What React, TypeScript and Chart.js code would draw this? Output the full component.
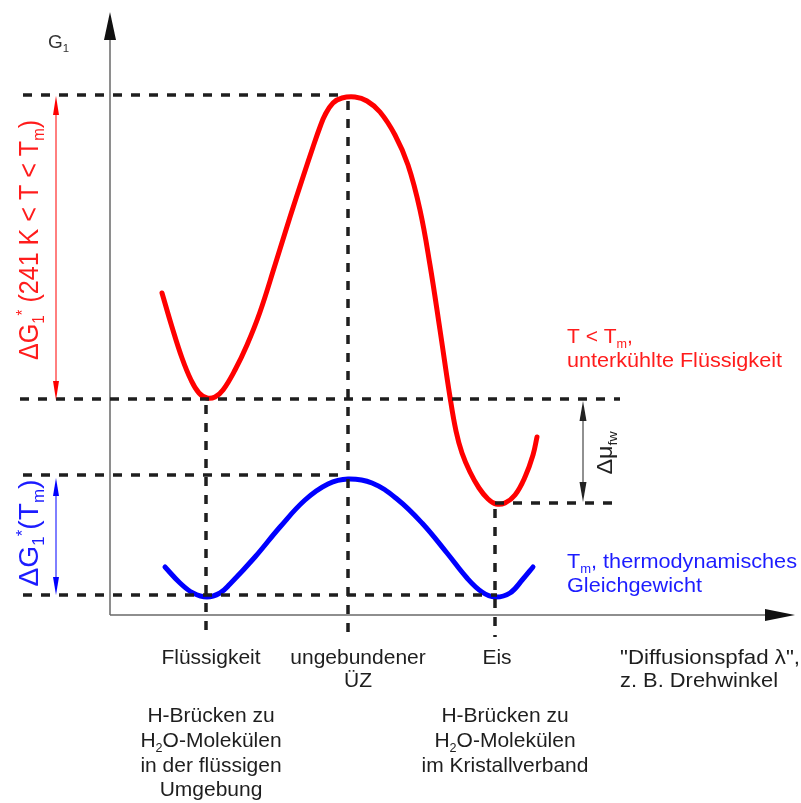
import React, { useEffect, useRef } from "react";
import { Chart, registerables } from "chart.js";

Chart.register(...registerables);

// Diffusion path coordinate λ (x) and free energy G1 (y), arbitrary units, origin at the axis crossing
const redX = [52, 62, 72, 81, 89, 97, 105, 113, 125, 137, 150, 165, 180, 193, 203, 210, 215, 223, 232, 245, 257, 270, 285, 298, 310, 320, 330, 340, 346, 352, 360, 369, 378, 386, 395, 405, 415, 423, 427];
const redY = [322, 288, 257, 235, 222, 217, 218, 225, 245, 270, 303, 350, 398, 438, 468, 488, 500, 512, 517, 518, 514, 503, 480, 450, 405, 350, 285, 218, 184, 162, 143, 127, 116, 111, 112, 120, 138, 160, 178];
const blueX = [55, 70, 83, 97, 110, 120, 145, 170, 195, 218, 238, 262, 287, 312, 337, 357, 372, 385, 400, 413, 423];
const blueY = [48, 32, 22, 18, 22, 31, 58, 88, 115, 131, 136, 132, 116, 92, 62, 37, 23, 18, 22, 36, 48];

// characteristic states on the path: Flüssigkeit, ungebundener ÜZ, Eis
const stateX = [96, 238, 385];
const stateLevel = [216, 520, 112];
const stateLabels = [["Flüssigkeit"], ["ungebundener", "ÜZ"], ["Eis"]];
const stateLabelX = [101, 248, 387];

// reference energy levels (dashed horizontals)
const levelY = [520, 216, 140, 20, 112];
const levelFrom = [-87, -90, -87, -87, 385];
const levelTo = [228, 510, 230, 387, 505];

const descLeft = ["H-Brücken zu", "H₂O-Molekülen", "in der flüssigen", "Umgebung"];
const descRight = ["H-Brücken zu", "H₂O-Molekülen", "im Kristallverband"];
const descX = [101, 395];

const X_MAX = 685;
const Y_MAX = 603;
const BELOW_AXIS = -22;

const FONT = '"Liberation Sans", Arial, sans-serif';
const RED = "#ff0000";
const BLUE = "#0000ff";
const RED_TXT = "#ff1c1c";
const BLUE_TXT = "#1c1cff";
const DARK = "#1e1e1e";

type Seg = { t: string; k?: "sub" | "sup" };

function segFont(size: number, k?: string) {
  return `${k ? size * 0.6 : size}px ${FONT}`;
}

function richWidth(ctx: CanvasRenderingContext2D, segs: Seg[], size: number) {
  let w = 0;
  for (const s of segs) {
    ctx.font = segFont(size, s.k);
    w += ctx.measureText(s.t).width;
  }
  return w;
}

function drawRich(
  ctx: CanvasRenderingContext2D,
  segs: Seg[],
  x: number,
  y: number,
  size: number,
  color: string,
  align: "left" | "center",
  targetW?: number,
  rotate?: boolean
) {
  ctx.save();
  ctx.translate(x, y);
  if (rotate) ctx.rotate(-Math.PI / 2);
  const w = richWidth(ctx, segs, size);
  const sx = targetW ? targetW / w : 1;
  ctx.scale(sx, 1);
  let cx = align === "center" ? -w / 2 : 0;
  ctx.fillStyle = color;
  ctx.textBaseline = "alphabetic";
  ctx.textAlign = "left";
  for (const s of segs) {
    ctx.font = segFont(size, s.k);
    const dy = s.k === "sub" ? size * 0.22 : s.k === "sup" ? -size * 0.36 : 0;
    ctx.fillText(s.t, cx, dy);
    cx += ctx.measureText(s.t).width;
  }
  ctx.restore();
}

function doubleArrow(
  ctx: CanvasRenderingContext2D,
  x: number,
  yTop: number,
  yBot: number,
  color: string,
  headLen: number,
  headHalf: number
) {
  ctx.save();
  ctx.strokeStyle = color;
  ctx.fillStyle = color;
  ctx.lineWidth = 1;
  ctx.beginPath();
  ctx.moveTo(x, yTop + headLen - 2);
  ctx.lineTo(x, yBot - headLen + 2);
  ctx.stroke();
  ctx.beginPath();
  ctx.moveTo(x, yTop);
  ctx.lineTo(x - headHalf, yTop + headLen);
  ctx.lineTo(x + headHalf, yTop + headLen);
  ctx.closePath();
  ctx.fill();
  ctx.beginPath();
  ctx.moveTo(x, yBot);
  ctx.lineTo(x - headHalf, yBot - headLen);
  ctx.lineTo(x + headHalf, yBot - headLen);
  ctx.closePath();
  ctx.fill();
  ctx.restore();
}

const annotations = {
  id: "annotations",
  beforeDatasetsDraw(chart: any) {
    const ctx: CanvasRenderingContext2D = chart.ctx;
    const xs = chart.scales.x;
    const ys = chart.scales.y;
    const x0 = xs.getPixelForValue(0);
    const y0 = ys.getPixelForValue(0);
    const top = ys.getPixelForValue(Y_MAX);
    const right = xs.getPixelForValue(X_MAX);
    ctx.save();
    ctx.strokeStyle = "#6a6a6a";
    ctx.lineWidth = 1.5;
    ctx.beginPath();
    ctx.moveTo(x0, y0);
    ctx.lineTo(x0, top + 20);
    ctx.moveTo(x0, y0);
    ctx.lineTo(right - 20, y0);
    ctx.stroke();
    ctx.fillStyle = "#111";
    ctx.beginPath();
    ctx.moveTo(x0, top);
    ctx.lineTo(x0 - 6, top + 28);
    ctx.lineTo(x0 + 6, top + 28);
    ctx.closePath();
    ctx.fill();
    ctx.beginPath();
    ctx.moveTo(right, y0);
    ctx.lineTo(right - 30, y0 - 6);
    ctx.lineTo(right - 30, y0 + 6);
    ctx.closePath();
    ctx.fill();
    ctx.restore();
  },
  afterDatasetsDraw(chart: any) {
    const ctx: CanvasRenderingContext2D = chart.ctx;
    const xs = chart.scales.x;
    const ys = chart.scales.y;
    const px = (v: number) => xs.getPixelForValue(v);
    const py = (v: number) => ys.getPixelForValue(v);

    // energy difference arrows
    doubleArrow(ctx, px(-54), py(levelY[0]) + 1, py(levelY[1]) + 1, RED, 19, 3);
    doubleArrow(ctx, px(-54), py(levelY[2]) + 3, py(levelY[3]), BLUE, 18, 3);
    doubleArrow(ctx, px(473), py(levelY[1]) + 2, py(levelY[4]) - 1, "#222", 20, 3.5);

    // y axis title
    drawRich(ctx, [{ t: "G" }, { t: "1", k: "sub" }], 48, 48, 19, "#333", "left");

    // rotated level labels
    drawRich(
      ctx,
      [{ t: "ΔG" }, { t: "1", k: "sub" }, { t: "*", k: "sup" }, { t: " (241 K < T < T" }, { t: "m", k: "sub" }, { t: ")" }],
      38,
      240,
      28,
      RED_TXT,
      "center",
      240,
      true
    );
    drawRich(
      ctx,
      [{ t: "ΔG" }, { t: "1", k: "sub" }, { t: "*", k: "sup" }, { t: "(T" }, { t: "m", k: "sub" }, { t: ")" }],
      38,
      533,
      28,
      BLUE_TXT,
      "center",
      107,
      true
    );
    drawRich(ctx, [{ t: "Δμ" }, { t: "fw", k: "sub" }], 612, 453, 22, "#222", "center", 43, true);

    // curve legends
    drawRich(ctx, [{ t: "T < T" }, { t: "m", k: "sub" }, { t: "," }], 567, 343, 21, RED_TXT, "left");
    drawRich(ctx, [{ t: "unterkühlte Flüssigkeit" }], 567, 367, 21, RED_TXT, "left", 215);
    drawRich(ctx, [{ t: "T" }, { t: "m", k: "sub" }, { t: ", thermodynamisches" }], 567, 568, 21, BLUE_TXT, "left", 230);
    drawRich(ctx, [{ t: "Gleichgewicht" }], 567, 592, 21, BLUE_TXT, "left", 135);

    // state labels under x axis
    const baseY = [664, 687];
    stateLabels.forEach((lines, i) => {
      lines.forEach((ln, j) => {
        drawRich(ctx, [{ t: ln }], px(stateLabelX[i]), baseY[j], 21, DARK, "center");
      });
    });
    // x axis title
    drawRich(ctx, [{ t: "\"Diffusionspfad λ\"," }], 620, 664, 21, DARK, "left", 180);
    drawRich(ctx, [{ t: "z. B. Drehwinkel" }], 620, 687, 21, DARK, "left", 158);

    // descriptions
    const descBase = [722, 747, 772, 796];
    const descSegs = (s: string): Seg[] =>
      s.startsWith("H₂O") ? [{ t: "H" }, { t: "2", k: "sub" }, { t: "O-Molekülen" }] : [{ t: s }];
    descLeft.forEach((s, j) => drawRich(ctx, descSegs(s), px(descX[0]), descBase[j], 21, DARK, "center"));
    descRight.forEach((s, j) => drawRich(ctx, descSegs(s), px(descX[1]), descBase[j], 21, DARK, "center"));
  },
};

export default function App() {
  const ref = useRef<HTMLCanvasElement | null>(null);

  useEffect(() => {
    if (!ref.current) return;
    const dashStyle = {
      borderColor: DARK,
      borderWidth: 3.5,
      borderDash: [9, 9],
      borderCapStyle: "butt",
      pointRadius: 0,
      showLine: true,
      clip: false,
      tension: 0,
    };
    const datasets: any[] = [];
    levelY.forEach((y, i) => {
      datasets.push({
        ...dashStyle,
        data: [
          { x: levelFrom[i], y },
          { x: levelTo[i], y },
        ],
      });
    });
    stateX.forEach((x, i) => {
      datasets.push({
        ...dashStyle,
        data: [
          { x, y: stateLevel[i] - 6 },
          { x, y: BELOW_AXIS },
        ],
      });
    });
    const curveStyle = {
      borderWidth: 5,
      pointRadius: 0,
      showLine: true,
      tension: 0.4,
      borderCapStyle: "round",
      borderJoinStyle: "round",
      clip: false,
    };
    datasets.push({
      ...curveStyle,
      label: "T < Tm",
      data: redX.map((x, i) => ({ x, y: redY[i] })),
      borderColor: RED,
    });
    datasets.push({
      ...curveStyle,
      label: "Tm",
      data: blueX.map((x, i) => ({ x, y: blueY[i] })),
      borderColor: BLUE,
    });

    const chart = new Chart(ref.current, {
      type: "scatter",
      data: { datasets },
      options: {
        responsive: false,
        animation: false,
        devicePixelRatio: 1,
        layout: { padding: { left: 110, right: 6, top: 12, bottom: 188 } },
        scales: {
          x: { type: "linear", min: 0, max: X_MAX, display: false },
          y: { type: "linear", min: 0, max: Y_MAX, display: false },
        },
        plugins: { legend: { display: false }, tooltip: { enabled: false } },
        events: [],
      },
      plugins: [annotations],
    } as any);
    return () => chart.destroy();
  }, []);

  return (
    <div style={{ position: "absolute", left: 0, top: 0, width: 801, height: 803, background: "#fff" }}>
      <canvas ref={ref} width={801} height={803} style={{ display: "block" }} />
    </div>
  );
}
